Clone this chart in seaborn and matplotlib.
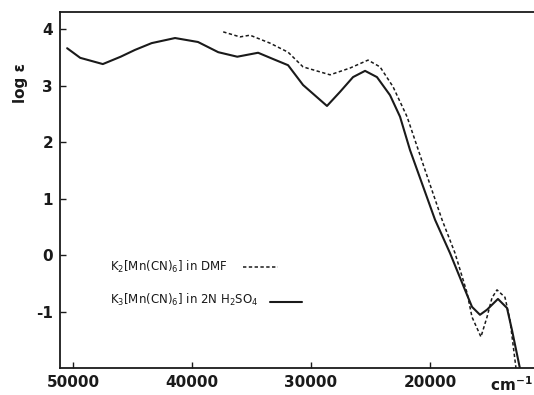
import numpy as np
import pandas as pd
import matplotlib
matplotlib.use("Agg")
import matplotlib.pyplot as plt
import seaborn as sns

# wavenumbers (cm^-1) and log eps
solid_nu = [50500, 49400, 47500, 46000, 44800, 43400, 41430, 39500, 37800,
            36200, 34450, 33200, 31930, 30670, 28660, 27560, 26470, 25460,
            24460, 23360, 22520, 21680, 19580, 18320, 17060, 16470, 15800,
            15210, 14290, 13530, 13110, 12440]
solid_logeps = [3.66, 3.49, 3.38, 3.51, 3.63, 3.75, 3.84, 3.77, 3.59,
                3.51, 3.58, 3.47, 3.36, 3.01, 2.64, 2.89, 3.15, 3.26,
                3.15, 2.83, 2.45, 1.86, 0.63, 0.04, -0.61, -0.91, -1.05,
                -0.96, -0.77, -0.93, -1.32, -2.00]

dashed_nu = [37400, 35970, 35130, 33450, 31930, 30670, 28400, 26720, 25210,
             24200, 23110, 21930, 20420, 18990, 17900, 16890, 16470, 15720,
             15210, 14790, 14370, 13700, 13280, 12770]
dashed_logeps = [3.95, 3.86, 3.89, 3.75, 3.59, 3.33, 3.19, 3.31, 3.45,
                 3.33, 2.98, 2.45, 1.51, 0.63, 0.04, -0.66, -1.09, -1.44,
                 -1.09, -0.75, -0.61, -0.74, -1.14, -2.00]

x_ticks = [50000, 40000, 30000, 20000]
y_ticks = [-1, 0, 1, 2, 3, 4]

label_dmf = r"K$_2$[Mn(CN)$_6$] in DMF"
label_h2so4 = r"K$_3$[Mn(CN)$_6$] in 2N H$_2$SO$_4$"

sns.set_style("ticks")
plt.rcParams["font.family"] = ["DejaVu Sans"]
plt.rcParams["mathtext.default"] = "regular"

solid_df = pd.DataFrame({"nu": solid_nu, "logeps": solid_logeps})
dashed_df = pd.DataFrame({"nu": dashed_nu, "logeps": dashed_logeps})

fig = plt.figure(figsize=(5.34, 3.95), dpi=100)
ax = fig.add_axes([60 / 534, 1 - 368 / 395, 1 - 60 / 534, 356 / 395])

ink = "#1a1a1a"
sns.lineplot(data=solid_df, x="nu", y="logeps", ax=ax, color=ink, lw=1.5)
sns.lineplot(data=dashed_df, x="nu", y="logeps", ax=ax, color=ink, lw=1.1,
             linestyle=(0, (2.2, 1.6)))

ax.set_xlim(51100, 11260)
ax.set_ylim(-1.99, 4.3)
ax.set_xticks(x_ticks)
ax.set_yticks(y_ticks)
ax.set_xticklabels([str(t) for t in x_ticks], fontsize=11, fontweight="bold")
ax.set_yticklabels([str(t) for t in y_ticks], fontsize=11, fontweight="bold")
ax.tick_params(direction="in", length=4, width=1, colors=ink, pad=5)
ax.set_xlabel("")
ax.set_ylabel("")
for side in ["left", "bottom", "top"]:
    ax.spines[side].set_linewidth(1.3)
    ax.spines[side].set_color(ink)
ax.spines["right"].set_visible(False)

fig.text(20 / 534, 1 - 83 / 395, "log ε", rotation=90, ha="center", va="center",
         fontsize=11, fontweight="bold", color=ink)
fig.text(490 / 534, 1 - 385 / 395, "cm$^{-1}$", ha="left", va="center",
         fontsize=11, fontweight="bold", color=ink)

# legend drawn as text + key lines
ax.text(0.105, 0.285, label_dmf, transform=ax.transAxes, fontsize=8.5,
        color=ink, va="center", ha="left")
ax.plot([0.386, 0.46], [0.285, 0.285], transform=ax.transAxes, color=ink,
        lw=1.1, linestyle=(0, (2.2, 1.6)))
ax.text(0.105, 0.19, label_h2so4, transform=ax.transAxes, fontsize=8.5,
        color=ink, va="center", ha="left")
ax.plot([0.443, 0.51], [0.185, 0.185], transform=ax.transAxes, color=ink,
        lw=1.5)

fig.savefig("out.png", dpi=100)
